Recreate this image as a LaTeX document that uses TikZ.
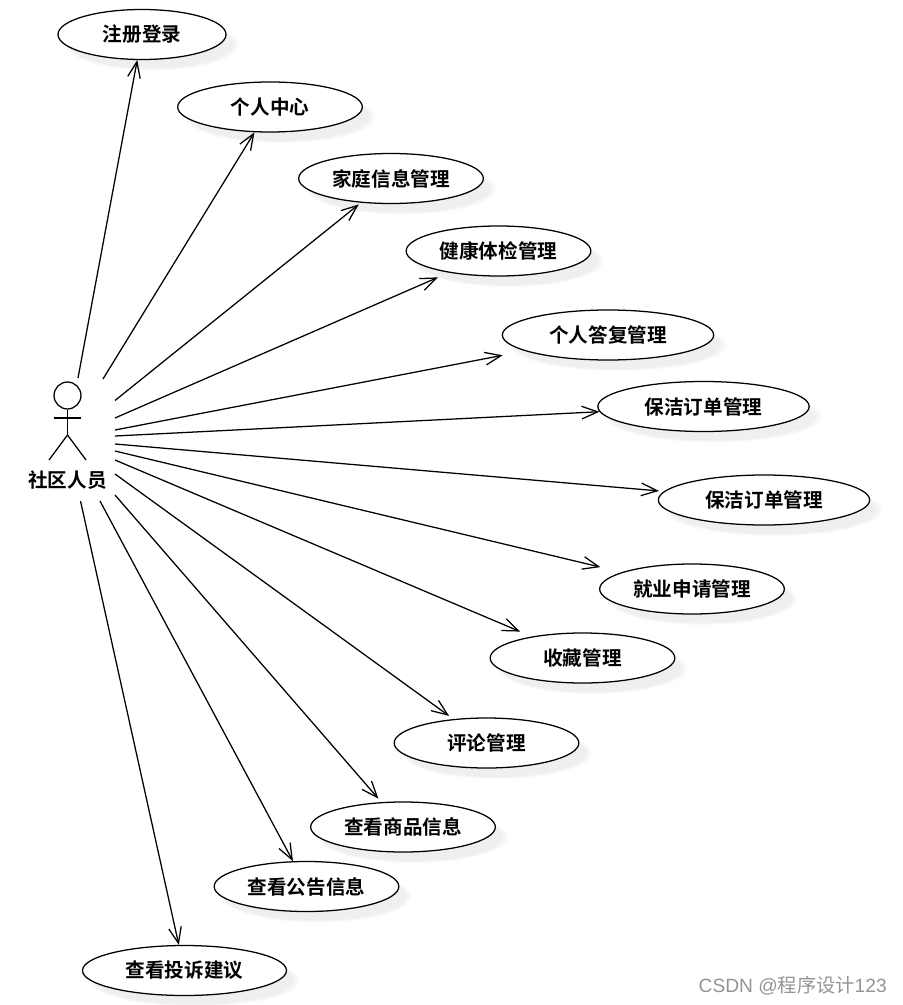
\documentclass[tikz,border=0pt]{standalone}
\usepackage{fontspec}
\setmainfont{Liberation Sans}
\newfontfamily\cjkb[BoldFont={Noto Sans CJK SC Bold}]{Noto Sans CJK SC}
\newfontfamily\cjkr{Noto Sans CJK SC}
\usetikzlibrary{shapes.geometric,shadows,arrows.meta}
\tikzset{
  usecase/.style={ellipse,draw=black,fill=white,line width=0.95pt,inner sep=0pt,
    minimum height=37.5pt,font=\cjkb\bfseries\fontsize{14.7}{16}\selectfont,text=black,
    general shadow={shadow xshift=7.5pt,shadow yshift=-7.5pt,fill=black,opacity=0.014,shadow scale=1.03},
    general shadow={shadow xshift=7.5pt,shadow yshift=-7.5pt,fill=black,opacity=0.014,shadow scale=1.01},
    general shadow={shadow xshift=7.5pt,shadow yshift=-7.5pt,fill=black,opacity=0.014,shadow scale=0.99},
    general shadow={shadow xshift=7.5pt,shadow yshift=-7.5pt,fill=black,opacity=0.014,shadow scale=0.97}},
  short/.style={usecase,minimum width=138.5pt},
  wide/.style={usecase,minimum width=158.5pt},
  first/.style={usecase,minimum width=126pt},
  last/.style={usecase,minimum width=153pt},
  link/.style={draw=black,line width=0.95pt,-{Straight Barb[length=12pt,width=9.5pt]}},
  stick/.style={draw=black,line width=0.95pt},
  actorname/.style={font=\cjkb\bfseries\fontsize{14.7}{16}\selectfont,text=black,inner sep=0pt},
  mark text/.style={font=\fontsize{14.4}{16}\selectfont,text=black!42,inner sep=0pt}
}
\begin{document}
\begin{tikzpicture}[x=0.75pt,y=-0.75pt]
\useasboundingbox (0,0) rectangle (902,1005);
% use cases
\node[first] (e1) at (142,34.5) {注册登录};
\node[short] (e2) at (270,107) {个人中心};
\node[short] (e3) at (391,178.5) {家庭信息管理};
\node[short] (e4) at (498.5,251) {健康体检管理};
\node[wide] (e5) at (608,335) {个人答复管理};
\node[wide] (e6) at (703.5,406.5) {保洁订单管理};
\node[wide] (e7) at (764,500) {保洁订单管理};
\node[short] (e8) at (692,589) {就业申请管理};
\node[short] (e9) at (582.5,658) {收藏管理};
\node[short] (e10) at (486.5,743) {评论管理};
\node[short] (e11) at (403,827) {查看商品信息};
\node[short] (e12) at (306.5,886.5) {查看公告信息};
\node[last] (e13) at (184.5,970.5) {查看投诉建议};
% actor
\node[circle,stick,fill=white,minimum size=20.2pt,inner sep=0pt] (head) at (67.5,395.5) {};
\coordinate (hip) at (67.5,435);
\coordinate (armL) at (54,418);
\coordinate (armR) at (81,418);
\coordinate (footL) at (49,460);
\coordinate (footR) at (86,460);
\draw[stick] (head) -- (hip);
\draw[stick] (armL) -- (armR);
\draw[stick] (footL) -- (hip) -- (footR);
\node[actorname] (actor) at (67.5,480) {社区人员};
% connector starts
\coordinate (s1) at (78,378);
\coordinate (s2) at (103,379);
\coordinate (s3) at (115,400.5);
\coordinate (s4) at (115,418);
\coordinate (s5) at (115,430);
\coordinate (s6) at (115,436);
\coordinate (s7) at (115,444);
\coordinate (s8) at (115,451);
\coordinate (s9) at (115,460);
\coordinate (s10) at (115,474);
\coordinate (s11) at (115,495);
\coordinate (s12) at (100,501);
\coordinate (s13) at (80.5,501);
\draw[link] (s1) -- (e1);
\draw[link] (s2) -- (e2);
\draw[link,shorten >=2pt] (s3) -- (e3);
\draw[link,shorten >=8.8pt] (s4) -- (e4);
\draw[link,shorten >=17pt] (s5) -- (e5);
\draw[link] (s6) -- (e6);
\draw[link,shorten >=3.8pt] (s7) -- (e7);
\draw[link,shorten >=16.5pt] (s8) -- (e8);
\draw[link,shorten >=9.5pt] (s9) -- (e9);
\draw[link,shorten >=4pt] (s10) -- (e10);
\draw[link,shorten >=3.4pt] (s11) -- (e11);
\draw[link] (s12) -- (e12);
\draw[link] (s13) -- (e13);
\node[mark text,anchor=east] (mark) at (887,986) {CSDN @{\cjkr 程序设计}123};
\end{tikzpicture}
\end{document}
